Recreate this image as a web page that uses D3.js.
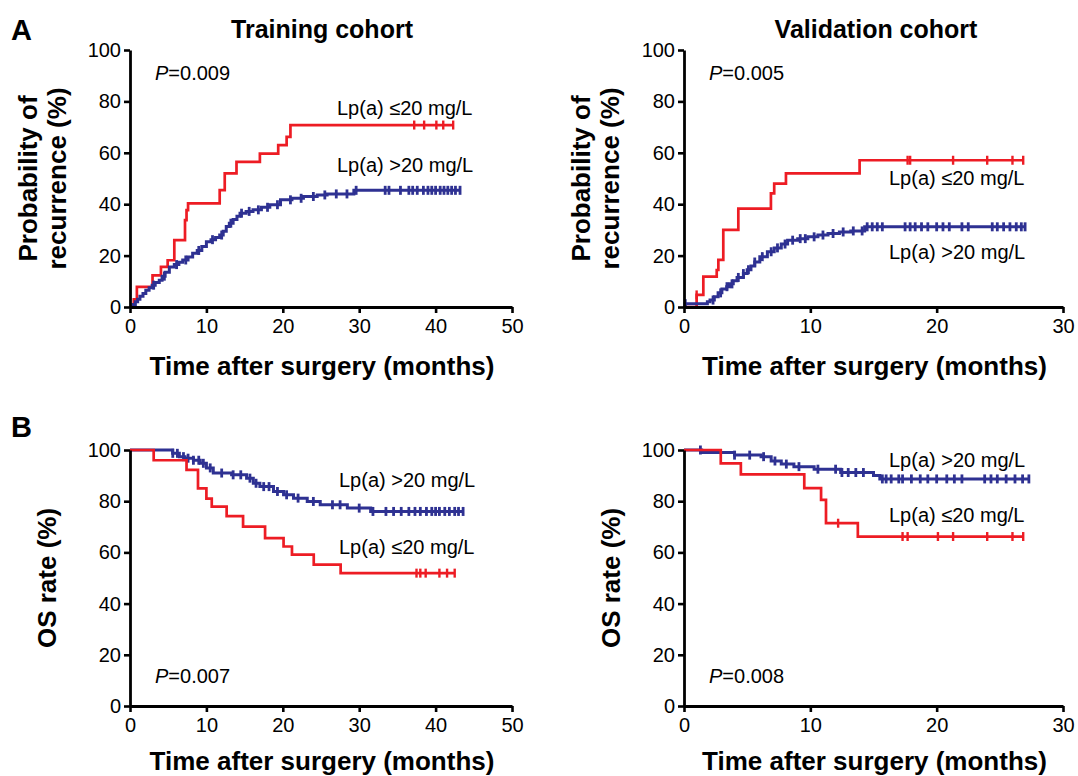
<!DOCTYPE html>
<html><head><meta charset="utf-8">
<script src="https://cdn.jsdelivr.net/npm/d3@7"></script>
<style>
body{margin:0;background:#fff}
svg{display:block}
text{font-family:"Liberation Sans",Arial,Helvetica,sans-serif;fill:#000}
</style>
</head><body>
<svg id="chart" width="1078" height="776"></svg>
<script>
// ---------------- DATA ----------------
const groupLow = "Lp(a) \u226420 mg/L";
const groupHigh = "Lp(a) >20 mg/L";
const colLow = "#ed1c24";
const colHigh = "#2e3192";

const xTicksTrain = [0, 10, 20, 30, 40, 50];
const xTicksValid = [0, 10, 20, 30];
const yTicks = [0, 20, 40, 60, 80, 100];

// A – recurrence, training cohort  [months, %]
const recTrainLow = [[0,0],[0.5,3],[0.9,7.8],[2.95,12.3],[4.05,15.6],[4.93,18.2],[5.8,26],[7.2,33.8],[7.4,37.7],[7.6,40.3],[11.74,45.5],[12.4,52],[13.94,56.5],[17.0,59.7],[19.4,63],[20.5,66.2],[21.0,70.8]];
const recTrainLowEnd = 42.3;
const recTrainLowCens = [37.2, 38.5, 40.1, 41.0, 42.3];
const recTrainHigh = [[0,0],[0.4,1],[0.7,2],[1.0,3],[1.3,4.2],[1.7,5.3],[2.07,6.5],[2.5,7.5],[2.9,8.5],[3.3,9.5],[3.83,10.4],[4.2,12],[4.6,13.5],[5.15,15.6],[5.8,16.5],[6.4,17.4],[6.9,18.3],[7.6,19.5],[8.2,20.9],[8.8,22],[9.4,23.5],[10.0,25.4],[10.6,26.2],[11.2,27],[11.74,28],[12.2,29.5],[12.6,31.3],[13.0,32.6],[13.5,34],[14.0,35.3],[14.4,36.5],[15.2,37.2],[16.1,37.8],[17.2,38.8],[18.3,39.8],[19.7,41.7],[21.2,42.3],[22.7,43],[24.5,43.6],[25.8,44],[29.3,45.4]];
const recTrainHighEnd = 43.2;
const recTrainHighCens = [3.1, 4.5, 6.1, 7.3, 9.0, 10.8, 12.0, 13.2, 14.6, 15.6, 16.8, 18.0, 19.3, 21.0, 22.4, 24.0, 25.5, 27.0, 28.4, 29.6, 33.4, 33.9, 35.4, 36.5, 37.0, 37.6, 38.4, 39.0, 39.5, 40.0, 40.6, 41.1, 41.6, 42.1, 42.6, 43.2];

// A – recurrence, validation cohort
const recValidLow = [[0,0],[1.0,4.7],[1.53,11.8],[2.59,14.4],[2.72,18.3],[3.11,30.0],[4.3,38.3],[6.88,44.2],[7.14,48],[8.07,52],[13.9,57.1]];
const recValidLowEnd = 26.85;
const recValidLowCens = [1.0, 17.7, 17.9, 21.3, 24.0, 26.0, 26.85];
const recValidHigh = [[0,0],[0.1,1.3],[1.85,2.0],[2.06,2.7],[2.4,4],[2.7,5.5],[3.0,7],[3.38,7.9],[3.6,9],[3.9,10.2],[4.2,11.5],[4.7,13],[5.0,14.5],[5.3,16],[5.6,17.5],[6.0,19.6],[6.6,21.5],[7.14,23.0],[7.7,24.5],[8.2,26],[9.0,26.6],[9.8,27.3],[10.6,28],[11.4,28.6],[12.3,29.2],[13.2,29.6],[14.3,31.2]];
const recValidHighEnd = 27.0;
const recValidHighCens = [0.1, 2.3, 2.9, 3.4, 3.8, 4.3, 4.7, 5.1, 5.6, 6.2, 6.9, 7.4, 8.0, 8.6, 9.2, 9.6, 10.3, 11.0, 11.8, 12.6, 13.4, 14.1, 14.5, 14.9, 15.3, 15.7, 17.5, 17.9, 18.3, 18.8, 19.3, 20.0, 20.5, 21.0, 22.0, 22.5, 24.4, 24.8, 25.3, 25.8, 26.3, 26.7, 27.0];

// B – overall survival, training cohort
const osTrainLow = [[0,100],[3.1,96],[7.4,92.2],[8.9,85],[10.0,81],[10.7,77.9],[12.65,74.2],[14.8,70.1],[17.68,65.6],[20.1,62.3],[21.2,59.1],[24.05,55.2],[27.57,51.9]];
const osTrainLowEnd = 42.5;
const osTrainLowCens = [37.5, 38.0, 38.7, 40.5, 41.5, 42.5];
const osTrainHigh = [[0,100],[5.58,98.7],[6.46,97.4],[7.2,96.8],[8.3,96],[9.2,94.8],[10.0,93],[10.9,91],[13.3,90.3],[15.26,89],[16.14,87],[17.0,85.7],[18.78,83.8],[20.1,82.5],[21.4,81.2],[23.2,79.9],[24.9,78.6],[28.45,77.3],[31.5,76]];
const osTrainHighEnd = 43.6;
const osTrainHighCens = [5.6, 6.2, 7.0, 7.6, 8.3, 9.0, 9.6, 10.5, 12.0, 13.5, 14.5, 15.7, 16.5, 17.5, 18.2, 19.3, 20.5, 22.0, 24.0, 26.5, 27.5, 30.0, 31.8, 33.5, 34.5, 35.5, 36.5, 37.3, 38.0, 38.8, 39.5, 40.0, 40.5, 41.2, 41.8, 42.5, 43.0, 43.6];

// B – overall survival, validation cohort
const osValidLow = [[0,100],[2.91,94.8],[4.5,90.5],[9.52,85.1],[10.85,80.5],[11.24,71.4],[13.76,66.2]];
const osValidLowEnd = 26.85;
const osValidLowCens = [12.2, 17.3, 17.7, 20.1, 21.3, 24.0, 26.0, 26.85];
const osValidHigh = [[0,100],[1.4,99],[4.0,98],[6.1,97.4],[6.9,95.7],[7.7,94.5],[8.7,93.5],[10.3,92.5],[12.4,91.2],[15.0,90],[15.5,88.7]];
const osValidHighEnd = 27.3;
const osValidHighCens = [1.3, 4.0, 5.2, 6.3, 7.2, 8.1, 9.1, 10.6, 12.0, 12.5, 13.0, 13.6, 14.2, 15.7, 16.0, 16.4, 17.0, 17.3, 18.0, 18.7, 19.3, 20.0, 20.8, 21.4, 22.0, 23.8, 24.3, 24.8, 25.5, 26.2, 26.8, 27.3];

const pValues = ["0.009", "0.005", "0.007", "0.008"];
const titles = ["Training cohort", "Validation cohort"];
const panelLetters = ["A", "B"];
const xAxisTitle = "Time after surgery (months)";
const yTitleRec = ["Probability of", "recurrence (%)"];
const yTitleOS = ["OS rate (%)"];

// ---------------- DRAW ----------------
const svg = d3.select("#chart");

const panels = [
  {box:{l:130,r:512,t:50,b:307}, xmax:50, xt:xTicksTrain, p:pValues[0], pPos:[25,30], xtOff:68,
   series:[
     {d:recTrainLow, end:recTrainLowEnd, c:recTrainLowCens, col:colLow, label:groupLow, lab:[207,65]},
     {d:recTrainHigh, end:recTrainHighEnd, c:recTrainHighCens, col:colHigh, label:groupHigh, lab:[207,122]}],
   ytitle:yTitleRec, ytx:[28,57]},
  {box:{l:684,r:1063,t:50,b:307}, xmax:30, xt:xTicksValid, p:pValues[1], pPos:[25,30], xtOff:68,
   series:[
     {d:recValidLow, end:recValidLowEnd, c:recValidLowCens, col:colLow, label:groupLow, lab:[205,135]},
     {d:recValidHigh, end:recValidHighEnd, c:recValidHighCens, col:colHigh, label:groupHigh, lab:[205,209]}],
   ytitle:yTitleRec, ytx:[581,610]},
  {box:{l:130,r:512,t:450,b:706}, xmax:50, xt:xTicksTrain, p:pValues[2], pPos:[25,233], xtOff:64,
   series:[
     {d:osTrainHigh, end:osTrainHighEnd, c:osTrainHighCens, col:colHigh, label:groupHigh, lab:[209,37]},
     {d:osTrainLow, end:osTrainLowEnd, c:osTrainLowCens, col:colLow, label:groupLow, lab:[209,104]}],
   ytitle:yTitleOS, ytx:[47]},
  {box:{l:684,r:1063,t:450,b:706}, xmax:30, xt:xTicksValid, p:pValues[3], pPos:[25,233], xtOff:64,
   series:[
     {d:osValidHigh, end:osValidHighEnd, c:osValidHighCens, col:colHigh, label:groupHigh, lab:[205,17]},
     {d:osValidLow, end:osValidLowEnd, c:osValidLowCens, col:colLow, label:groupLow, lab:[205,72]}],
   ytitle:yTitleOS, ytx:[611]}
];

function valueAt(steps, t){
  let v = steps[0][1];
  for (const s of steps){ if (s[0] <= t) v = s[1]; }
  return v;
}

panels.forEach((P, i) => {
  const b = P.box;
  const x = d3.scaleLinear().domain([0, P.xmax]).range([b.l, b.r]);
  const y = d3.scaleLinear().domain([0, 100]).range([b.b, b.t]);
  const g = svg.append("g");

  // curves
  const line = d3.line().x(d => x(d[0])).y(d => y(d[1])).curve(d3.curveStepAfter);
  P.series.forEach(s => {
    const pts = s.d.concat([[s.end, s.d[s.d.length-1][1]]]);
    const sw = s.col === colHigh ? 3 : 2.7;
    g.append("path").attr("d", line(pts)).attr("fill","none")
      .attr("stroke", s.col).attr("stroke-width", sw);
    g.selectAll(null).data(s.c).enter().append("line")
      .attr("x1", d => x(d)).attr("x2", d => x(d))
      .attr("y1", d => y(valueAt(s.d, d)) - 4.5).attr("y2", d => y(valueAt(s.d, d)) + 4.5)
      .attr("stroke", s.col).attr("stroke-width", s.col === colHigh ? 2.8 : 2.4);
    g.append("text").attr("x", b.l + s.lab[0]).attr("y", b.t + s.lab[1])
      .attr("font-size", 20).text(s.label);
  });

  // axes
  const ya = g.append("g").attr("transform", `translate(${b.l},0)`)
    .call(d3.axisLeft(y).tickValues(yTicks).tickSize(6).tickSizeOuter(0).tickPadding(3));
  const xa = g.append("g").attr("transform", `translate(0,${b.b})`)
    .call(d3.axisBottom(x).tickValues(P.xt).tickSize(6).tickSizeOuter(0).tickPadding(6));
  [ya, xa].forEach(a => {
    a.select(".domain").attr("stroke","#000").attr("stroke-width",2.8);
    a.selectAll(".tick line").attr("stroke","#000").attr("stroke-width",2.6);
    a.selectAll(".tick text").attr("font-size",20).attr("font-family",'"Liberation Sans",Arial,sans-serif').attr("fill","#000");
  });

  // P-value
  const pt = g.append("text").attr("x", b.l + P.pPos[0]).attr("y", b.t + P.pPos[1]).attr("font-size", 20);
  pt.append("tspan").attr("font-style","italic").text("P");
  pt.append("tspan").text("=" + P.p);

  // axis titles
  const cx = (b.l + b.r) / 2 + 1;
  g.append("text").attr("x", cx).attr("y", b.b + P.xtOff).attr("text-anchor","middle")
    .attr("font-size", 26).attr("font-weight","bold").text(xAxisTitle);
  const cy = (b.t + b.b) / 2;
  P.ytitle.forEach((t, k) => {
    g.append("text").attr("transform", `translate(${P.ytx[k]},${cy}) rotate(-90)`)
      .attr("text-anchor","middle").attr("dy","0.35em")
      .attr("font-size", 26).attr("font-weight","bold").text(t);
  });
});

// column titles and panel letters
svg.append("text").attr("x", 322).attr("y", 38).attr("text-anchor","middle")
  .attr("font-size", 25).attr("font-weight","bold").text(titles[0]);
svg.append("text").attr("x", 876).attr("y", 38).attr("text-anchor","middle")
  .attr("font-size", 25).attr("font-weight","bold").text(titles[1]);
svg.append("text").attr("x", 11).attr("y", 40).attr("font-size", 29).attr("font-weight","bold").text(panelLetters[0]);
svg.append("text").attr("x", 11).attr("y", 437).attr("font-size", 29).attr("font-weight","bold").text(panelLetters[1]);
</script>
</body></html>
